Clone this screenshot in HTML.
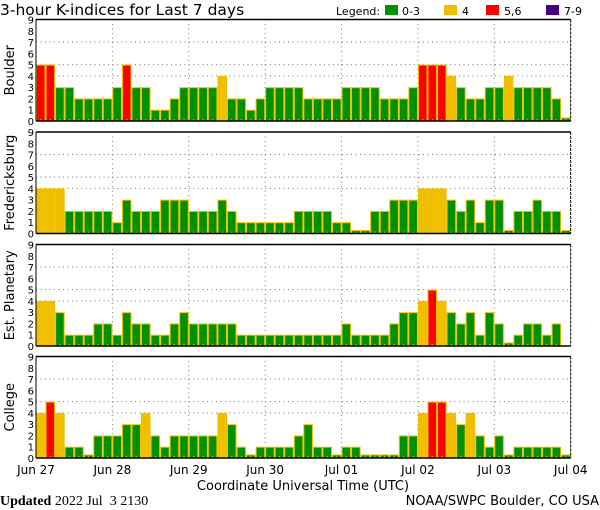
<!DOCTYPE html>
<html><head><meta charset="utf-8">
<style>
html,body{margin:0;padding:0;background:#fff;}
svg{display:block;font-family:"DejaVu Sans","Liberation Sans",sans-serif;}
</style></head>
<body>
<svg id="chart" width="600" height="510" viewBox="0 0 600 510" xmlns="http://www.w3.org/2000/svg">
<text x="0" y="15" font-size="15.5" fill="#000">3-hour K-indices for Last 7 days</text>
<g font-size="11">
<text x="336" y="15">Legend:</text>
<rect x="385" y="5" width="13" height="10" fill="#009000"/>
<text x="402" y="15">0-3</text>
<rect x="444" y="5" width="13" height="10" fill="#f0c000"/>
<text x="462" y="15">4</text>
<rect x="486" y="5" width="13" height="10" fill="#ff0000"/>
<text x="504" y="15">5,6</text>
<rect x="546" y="5" width="13" height="10" fill="#400080"/>
<text x="564" y="15">7-9</text>
</g>
<g id="panels"></g>
<text x="303" y="490" font-size="13" text-anchor="middle">Coordinate Universal Time (UTC)</text>
<text x="0" y="505" font-size="14" font-family="Liberation Serif, serif"><tspan font-weight="bold">Updated</tspan> 2022 Jul &#160;3 2130</text>
<text x="599" y="505" font-size="13" text-anchor="end">NOAA/SWPC Boulder, CO USA</text>
</svg>
<script>
const stations = ["Boulder","Fredericksburg","Est. Planetary","College"];
const dayLabels = ["Jun 27","Jun 28","Jun 29","Jun 30","Jul 01","Jul 02","Jul 03","Jul 04"];
const yTicks = [0,1,2,3,4,5,6,7,8,9];
const boulder = [5,5,3,3,2,2,2,2, 3,5,3,3,1,1,2,3, 3,3,3,4,2,2,1,2, 3,3,3,3,2,2,2,2, 3,3,3,3,2,2,2,3, 5,5,5,4,3,2,2,3, 3,4,3,3,3,3,2,0];
const fredericksburg = [4,4,4,2,2,2,2,2, 1,3,2,2,2,3,3,3, 2,2,2,3,2,1,1,1, 1,1,1,2,2,2,2,1, 1,0,0,2,2,3,3,3, 4,4,4,3,2,3,1,3, 3,0,2,2,3,2,2,0];
const planetary = [4,4,3,1,1,1,2,2, 1,3,2,2,1,1,2,3, 2,2,2,2,2,1,1,1, 1,1,1,1,1,1,1,1, 2,1,1,1,1,2,3,3, 4,5,4,3,2,3,1,3, 2,0,1,2,2,1,2,null];
const college = [4,5,4,1,1,0,2,2, 2,3,3,4,2,1,2,2, 2,2,2,4,3,1,0,1, 1,1,1,2,3,1,1,0, 1,1,0,0,0,0,2,2, 4,5,5,4,3,4,2,1, 2,0,1,1,1,1,1,0];
const series = [boulder, fredericksburg, planetary, college];

const NS="http://www.w3.org/2000/svg";
const X0=36, X1=570.7, NB=56, PH=101.5;
const panelTops=[19.5,132,244.5,356.5];
function xScale(i){return X0+(X1-X0)*i/NB;}
function yScale(v,top){return top+PH-PH*v/9;}
function color(v){return v<=3?"#009000":v==4?"#f0c000":v<=6?"#ff0000":"#400080";}
function mk(tag,attrs,parent){const e=document.createElementNS(NS,tag);for(const k in attrs)e.setAttribute(k,attrs[k]);parent.appendChild(e);return e;}
const root=document.getElementById("panels");
series.forEach((data,p)=>{
  const top=panelTops[p], bot=top+PH;
  const g=mk("g",{},root);
  
  
  [4,5,7].forEach(v=>{
    const l=mk("line",{x1:X0,x2:X1,y1:yScale(v,top),y2:yScale(v,top),stroke:"#777","stroke-dasharray":"1,3.5","stroke-width":1},g);
    
    
  });
  for(let d=1;d<7;d++){
    const x=xScale(d*8);
    const l=mk("line",{x1:x,x2:x,y1:top,y2:bot,stroke:"#777","stroke-dasharray":"1,3.5","stroke-width":1},g);
    
    
  }
  data.forEach((v,i)=>{
    if(v===null)return;
    const x=xScale(i), w=xScale(i+1)-x;
    let y=yScale(v,top), h=bot-y;
    if(h<3.5){h=3.5;y=bot-3.5;}
    const r=mk("rect",{x:x+0.5,y:y+0.5,width:w-1,height:h-0.5,fill:color(v),stroke:"#f0c000","stroke-width":1},g);
    
    
    const t=mk("line",{x1:x+w/2,x2:x+w/2,y1:bot-2,y2:bot,stroke:"#f0c000","stroke-width":1},g);
    
    
  });
  const a1=mk("line",{x1:X0,x2:X1,y1:top,y2:top,stroke:"#000","stroke-width":1.5},g);
  
  
  const a2=mk("line",{x1:X0,x2:X1,y1:bot,y2:bot,stroke:"#000","stroke-width":1.5},g);
  
  
  const a3=mk("line",{x1:X0,x2:X0,y1:top,y2:bot,stroke:"#000","stroke-width":1},g);
  
  
  const a4=mk("line",{x1:X1,x2:X1,y1:top,y2:bot,stroke:"#000","stroke-width":1,"stroke-dasharray":"3,1"},g);
  
  
  yTicks.forEach(v=>{
    const t=mk("text",{x:34,y:yScale(v,top)+4,"font-size":"10","text-anchor":"end"},g);
    t.textContent=v;
    
    
  });
  const cy=top+PH/2;
  const lab=mk("text",{x:0,y:0,"font-size":"13","text-anchor":"middle",transform:"translate(14,"+cy+") rotate(-90)"},g);
  lab.textContent=stations[p];
  
  
});
dayLabels.forEach((d,k)=>{
  const t=mk("text",{x:xScale(k*8),y:474,"font-size":"12","text-anchor":"middle"},root);
  t.textContent=d;
  
  
});
</script>
</body></html>
